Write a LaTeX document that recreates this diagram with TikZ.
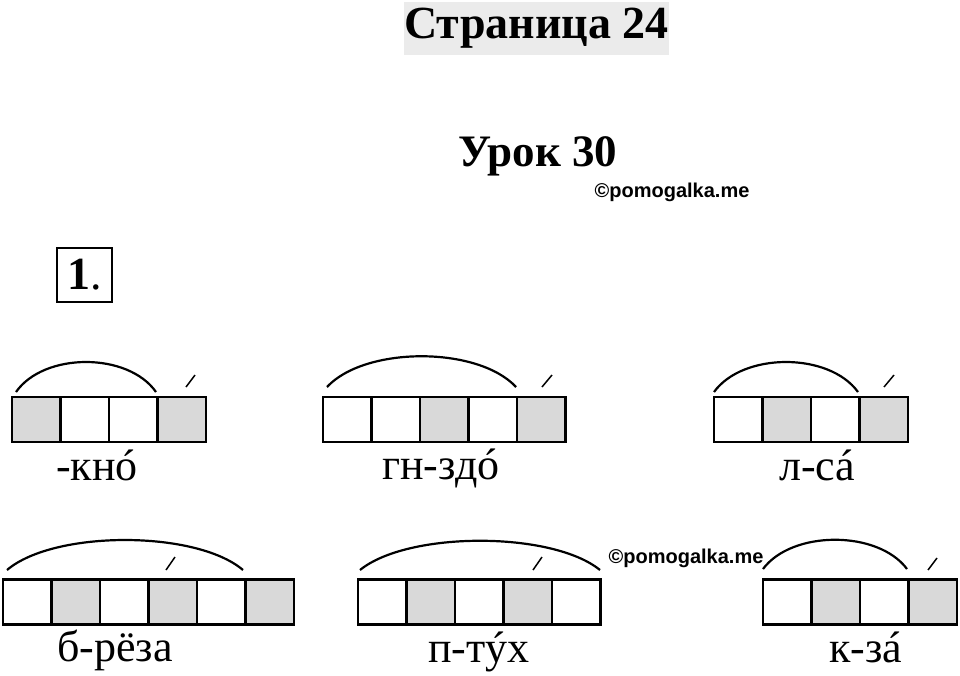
\documentclass[tikz,border=0pt]{standalone}
\usepackage{fontspec}
\setmainfont{Liberation Serif}
\newfontfamily\wmfont{Liberation Sans}
\usetikzlibrary{positioning}

\definecolor{cellgrey}{HTML}{D9D9D9}
\definecolor{titlegrey}{HTML}{EBEBEB}

% stressed vowel: acute set over the letter
\newcommand\udar[1]{\leavevmode\ooalign{#1\cr\hidewidth\kern0.08em\symbol{"00B4}\hidewidth\cr}}

\tikzset{
  cell/.style={draw, line width=2.6pt, minimum width=48.5pt, minimum height=45pt, outer sep=0pt, inner sep=0pt},
  shaded/.style={cell, fill=cellgrey},
  arcline/.style={line width=2.2pt},
  stress/.style={line width=1.5pt},
  word/.style={anchor=base, font=\fontsize{44}{50}\selectfont},
  wmtext/.style={anchor=base, font=\wmfont\bfseries\fontsize{20}{24}\selectfont}
}

\begin{document}
\begin{tikzpicture}[x=1pt, y=-1pt]
  \useasboundingbox (0,0) rectangle (960,675);

  % headings
  \node (T) [fill=titlegrey, minimum width=263pt, minimum height=53pt, inner sep=0pt, font=\bfseries\fontsize{46}{50}\selectfont] at (536.5,28.5) {Страница 24};
  \node (L) [anchor=base, font=\bfseries\fontsize{45}{50}\selectfont] at (538,166) {Урок 30};
  \node (W1) [wmtext] at (672,197) {©pomogalka.me};
  \node (N) [draw, line width=2.4pt, minimum width=55pt, minimum height=54pt, inner sep=0pt, font=\fontsize{46}{50}\selectfont] at (84.5,275) {\textbf{1}.};

  % first row
  \node (a1) [shaded] at (36.25,419.5) {};
  \node (a2) [cell, right=0pt of a1] {};
  \node (a3) [cell, right=0pt of a2] {};
  \node (a4) [shaded, right=0pt of a3] {};

  \node (b1) [cell] at (347.25,419.5) {};
  \node (b2) [cell, right=0pt of b1] {};
  \node (b3) [shaded, right=0pt of b2] {};
  \node (b4) [cell, right=0pt of b3] {};
  \node (b5) [shaded, right=0pt of b4] {};

  \node (c1) [cell] at (738.25,419.5) {};
  \node (c2) [shaded, right=0pt of c1] {};
  \node (c3) [cell, right=0pt of c2] {};
  \node (c4) [shaded, right=0pt of c3] {};

  \draw[arcline] (16,392) .. controls (44,352) and (128,352) .. (156,392);
  \draw[arcline] (327,387) .. controls (365,346) and (478,346) .. (516,387);
  \draw[arcline] (714,392) .. controls (743,352) and (829,352) .. (858,392);
  \draw[stress] (186,387) -- (195,375);
  \draw[stress] (542,387) -- (552,375);
  \draw[stress] (884,387) -- (894,375);

  \node (wa) [word] at (97,480) {-кн\udar{о}};
  \node (wb) [word] at (441,479) {гн-зд\udar{о}};
  \node (wc) [word] at (817,480) {л-с\udar{а}};

  % second row
  \node (d1) [cell] at (27.25,602) {};
  \node (d2) [shaded, right=0pt of d1] {};
  \node (d3) [cell, right=0pt of d2] {};
  \node (d4) [shaded, right=0pt of d3] {};
  \node (d5) [cell, right=0pt of d4] {};
  \node (d6) [shaded, right=0pt of d5] {};

  \node (e1) [cell] at (382.25,602) {};
  \node (e2) [shaded, right=0pt of e1] {};
  \node (e3) [cell, right=0pt of e2] {};
  \node (e4) [shaded, right=0pt of e3] {};
  \node (e5) [cell, right=0pt of e4] {};

  \node (f1) [cell] at (787.25,602) {};
  \node (f2) [shaded, right=0pt of f1] {};
  \node (f3) [cell, right=0pt of f2] {};
  \node (f4) [shaded, right=0pt of f3] {};

  \draw[arcline] (7,570) .. controls (54,530) and (196,530) .. (243,570);
  \draw[arcline] (360,570) .. controls (408,531) and (552,531) .. (600,570);
  \draw[arcline] (763,569) .. controls (792,530) and (878,530) .. (907,569);
  \draw[stress] (166,570) -- (175,557);
  \draw[stress] (533,570) -- (542,557);
  \draw[stress] (928,570) -- (937,558);

  \node (wd) [word] at (115,661) {б-рёза};
  \node (we) [word] at (479,662) {п-т\udar{у}х};
  \node (wf) [word] at (866,662) {к-з\udar{а}};

  \node (W2) [wmtext] at (686,563) {©pomogalka.me};
\end{tikzpicture}
\end{document}
